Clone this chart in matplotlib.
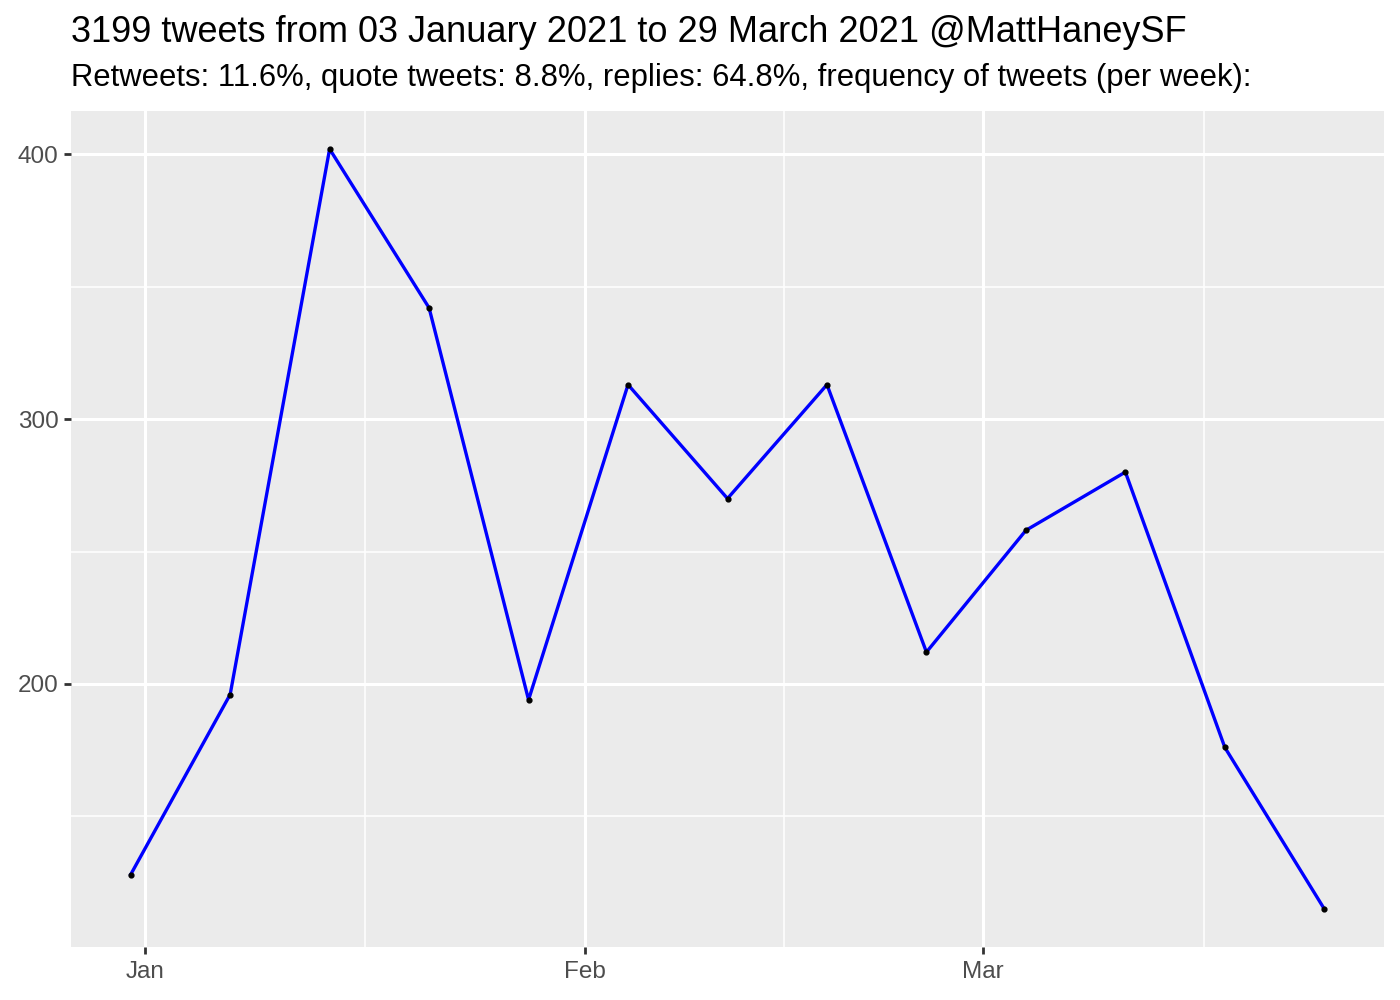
import numpy as np
import matplotlib
matplotlib.use("Agg")
import matplotlib.pyplot as plt
import matplotlib.dates as mdates
from matplotlib.ticker import MultipleLocator

plt.rcParams['font.family'] = ['Liberation Sans', 'DejaVu Sans']

# weekly tweet counts
weeks = np.array(['2020-12-31', '2021-01-07', '2021-01-14', '2021-01-21', '2021-01-28',
                  '2021-02-04', '2021-02-11', '2021-02-18', '2021-02-25', '2021-03-04',
                  '2021-03-11', '2021-03-18', '2021-03-25'], dtype='datetime64[D]')
counts = [128, 196, 402, 342, 194, 313, 270, 313, 212, 258, 280, 176, 115]

title = "3199 tweets from 03 January 2021 to 29 March 2021 @MattHaneySF"
subtitle = ("Retweets: 11.6%, quote tweets: 8.8%, replies: 64.8%, "
            "frequency of tweets (per week):")

fig = plt.figure(figsize=(14, 10), dpi=100)
ax = fig.add_axes([71/1400, 1 - 947/1000, (1384-71)/1400, (947-111)/1000])
ax.set_facecolor('#EBEBEB')
for s in ax.spines.values():
    s.set_visible(False)

x = mdates.date2num(weeks)
ax.plot(x, counts, color='#0000FF', lw=2.4, zorder=3)
ax.scatter(x, counts, s=12, color='black', zorder=4)

span = x[-1] - x[0]
ax.set_xlim(x[0] - 0.05 * span, x[-1] + 0.05 * span)
yr = max(counts) - min(counts)
ax.set_ylim(min(counts) - 0.05 * yr, max(counts) + 0.05 * yr)

ax.xaxis.set_major_locator(mdates.MonthLocator())
ax.xaxis.set_major_formatter(mdates.DateFormatter('%b'))
ax.yaxis.set_major_locator(MultipleLocator(100))
ax.yaxis.set_minor_locator(MultipleLocator(50))

# minor breaks halfway between month starts
months = mdates.date2num(np.array(['2021-01-01', '2021-02-01', '2021-03-01', '2021-04-01'],
                                  dtype='datetime64[D]'))
ax.set_xticks((months[:-1] + months[1:]) / 2, minor=True)

ax.grid(which='major', color='white', lw=2.2)
ax.grid(which='minor', color='white', lw=1.1)
ax.set_axisbelow(True)

ax.tick_params(which='major', length=5, width=2, color='#333333',
               labelsize=17.5, labelcolor='#4D4D4D', pad=4)
ax.tick_params(axis='x', which='major', pad=5)
ax.tick_params(which='minor', length=0)

fig.text(71/1400, 1 - 32/1000, title, fontsize=26, va='center', ha='left')
fig.text(71/1400, 1 - 78/1000, subtitle, fontsize=22.3, va='center', ha='left')

fig.savefig('out.png', dpi=100, facecolor='white')
